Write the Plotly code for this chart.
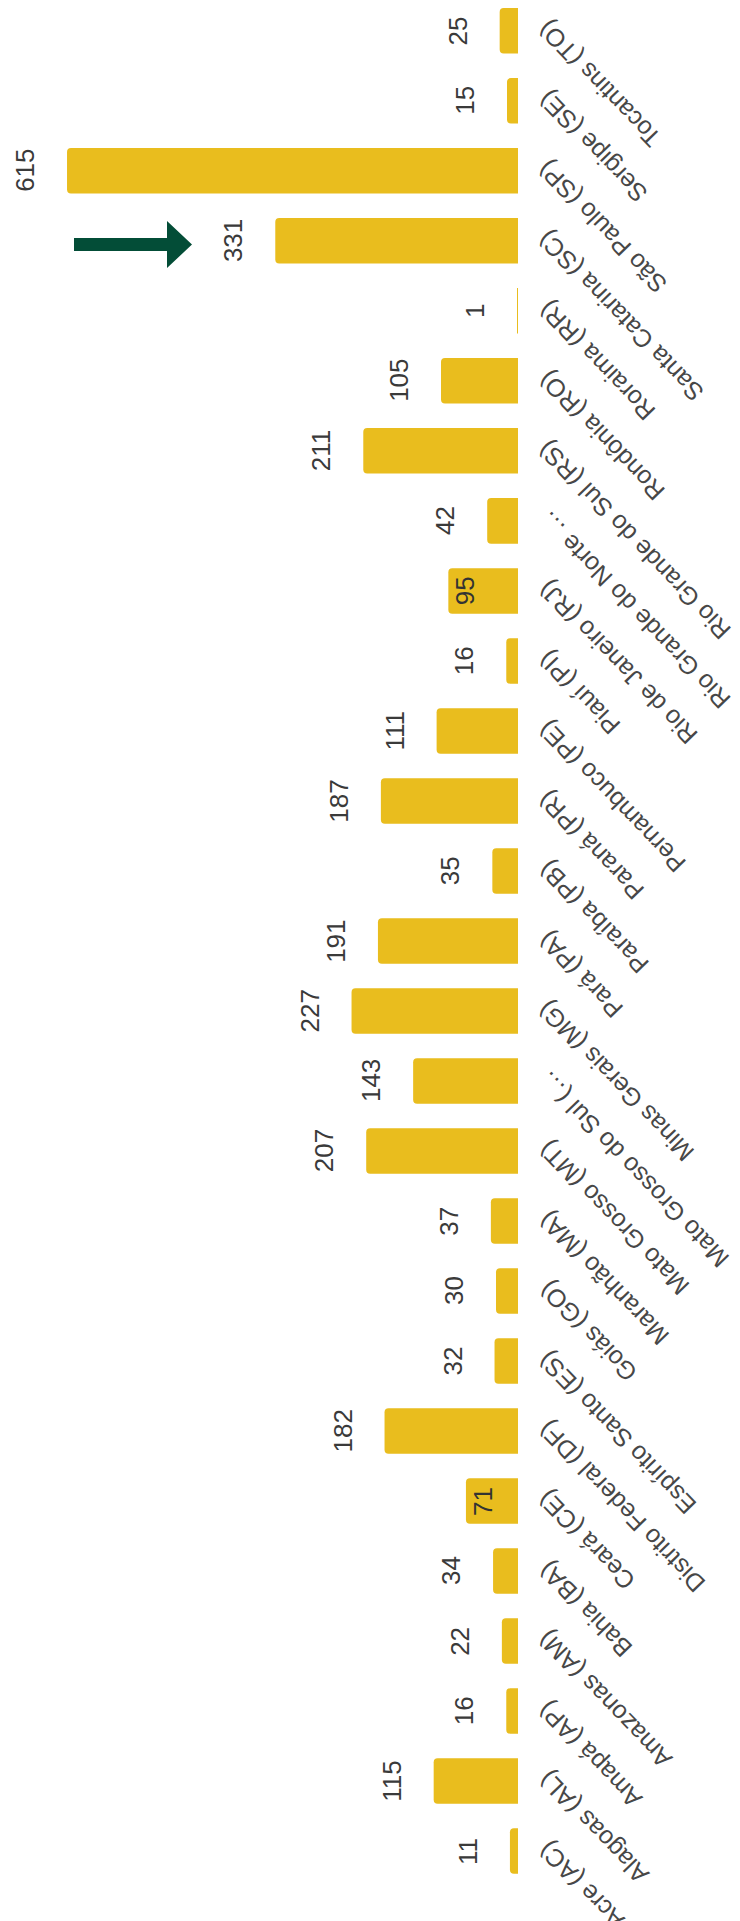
import plotly.graph_objects as go

# Categories, bottom to top (as displayed, including truncation)
states = [
    "Acre (AC)", "Alagoas (AL)", "Amapá (AP)", "Amazonas (AM)", "Bahia (BA)",
    "Ceará (CE)", "Distrito Federal (DF)", "Espírito Santo (ES)", "Goiás (GO)",
    "Maranhão (MA)", "Mato Grosso (MT)", "Mato Grosso do Sul (…", "Minas Gerais (MG)",
    "Pará (PA)", "Paraíba (PB)", "Paraná (PR)", "Pernambuco (PE)", "Piauí (PI)",
    "Rio de Janeiro (RJ)", "Rio Grande do Norte …", "Rio Grande do Sul (RS)",
    "Rondônia (RO)", "Roraima (RR)", "Santa Catarina (SC)", "São Paulo (SP)",
    "Sergipe (SE)", "Tocantins (TO)",
]
values = [11, 115, 16, 22, 34, 71, 182, 32, 30, 37, 207, 143, 227, 191, 35, 187,
          111, 16, 95, 42, 211, 105, 1, 331, 615, 15, 25]
labels_inside = ["Rio de Janeiro (RJ)", "Ceará (CE)"]

BAR = "#E9BD1E"
TXT = "#3a3a3a"
FONT = "Arial, Liberation Sans, sans-serif"

fig = go.Figure(go.Bar(
    x=values, y=states, orientation="h",
    marker=dict(color=BAR, cornerradius=4, line=dict(width=0)),
    hoverinfo="x+y",
))

W, H = 740, 1921
OFF = 8          # page body margin offset
plot_w = 510     # paper px of baseline
fig.update_layout(
    width=W, height=H,
    margin=dict(l=0, r=W - plot_w, t=0, b=0),
    paper_bgcolor="white", plot_bgcolor="white",
    bargap=0.35, showlegend=False,
    xaxis=dict(range=[695.5, 0], visible=False),
    yaxis=dict(type="category", categoryorder="array", categoryarray=states,
               range=[-1.114, 26.326], showticklabels=False, showgrid=False,
               zeroline=False, showline=False, ticks=""),
)

ann = []
for s, v in zip(states, values):
    ann.append(dict(x=0, y=s, xref="x", yref="y", text=s, showarrow=False,
                    textangle=-134, xanchor="left", yanchor="top",
                    xshift=12, yshift=18,
                    font=dict(family=FONT, size=25, color="#474747")))
    inside = s in labels_inside
    ann.append(dict(x=v, y=s, xref="x", yref="y", text=str(v), showarrow=False,
                    textangle=-90, xanchor="center", yanchor="middle",
                    xshift=17 if inside else -42,
                    font=dict(family=FONT, size=26,
                              color="#333333" if inside else TXT)))
fig.update_layout(annotations=ann)

# arrow pointing at highlighted bar (paper coords from image pixel geometry)
def px(xp):
    return (xp - OFF) / plot_w
def py(yp):
    return 1 - (yp - OFF) / H

cy = 244.5
path = "M {},{} L {},{} L {},{} L {},{} L {},{} L {},{} L {},{} Z".format(
    px(74), py(cy - 6.5), px(167), py(cy - 6.5), px(167), py(cy - 23.5),
    px(192), py(cy), px(167), py(cy + 23.5), px(167), py(cy + 6.5),
    px(74), py(cy + 6.5))
fig.add_shape(type="path", path=path, xref="paper", yref="paper",
              fillcolor="#034D37", line=dict(width=0))

fig.write_html("out.html")
